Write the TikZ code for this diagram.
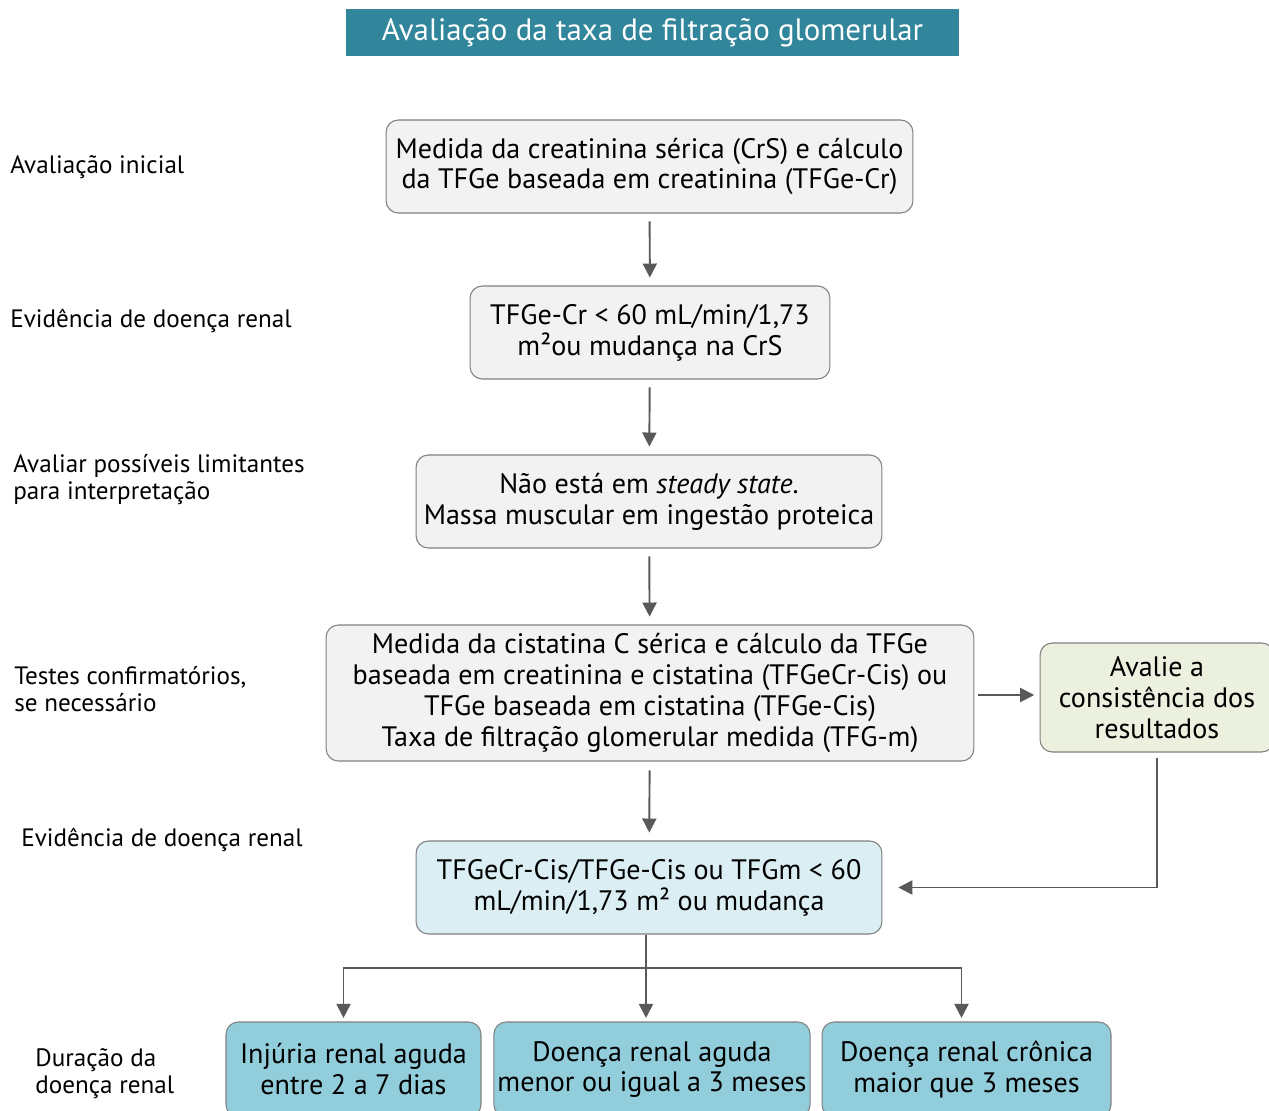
\documentclass[tikz,border=0pt]{standalone}
\usepackage{fontspec}
\setmainfont{PT Sans}
\usetikzlibrary{arrows.meta}

\definecolor{titleteal}{RGB}{49,134,155}
\definecolor{boxgray}{RGB}{242,242,242}
\definecolor{boxgreen}{RGB}{235,241,222}
\definecolor{boxblue}{RGB}{218,238,243}
\definecolor{boxteal}{RGB}{146,205,220}
\definecolor{linegray}{RGB}{89,89,89}

\tikzset{
  stepbox/.style={draw=gray, line width=0.6pt, rounded corners=7pt, align=center,
    inner sep=2pt, font=\fontsize{16}{17.6}\selectfont},
  sidelabel/.style={anchor=west, align=left, inner sep=0pt,
    font=\fontsize{14.3}{15.3}\selectfont},
  flow/.style={draw=linegray, line width=1.1pt,
    -{Triangle[width=8pt,length=8pt]}},
}

\begin{document}
\begin{tikzpicture}[x=0.02cm, y=-0.02cm]
    \clip (0,0) rectangle (1269,1111);

    %title
    \node[fill=titleteal, text=white, minimum width=12.26cm, minimum height=0.94cm,
      font=\fontsize{17.6}{18}\selectfont] (title) at (652.5,32.5)
      {Avaliação da taxa de filtração glomerular};

    %boxes
    \node[stepbox, fill=boxgray, minimum width=10.54cm, minimum height=1.86cm] (crs) at (649.5,166.5)
      {Medida da creatinina sérica (CrS) e cálculo\\da TFGe baseada em creatinina (TFGe-Cr)};
    \node[stepbox, fill=boxgray, minimum width=7.2cm, minimum height=1.86cm] (evid) at (650,332.5)
      {TFGe-Cr < 60 mL/min/1,73\\m²ou mudança na CrS};
    \node[stepbox, fill=boxgray, minimum width=9.32cm, minimum height=1.86cm] (limit) at (649,501.5)
      {Não está em \textit{steady state}.\\Massa muscular em ingestão proteica};
    \node[stepbox, fill=boxgray, minimum width=12.96cm, minimum height=2.72cm] (cis) at (650,693)
      {Medida da cistatina C sérica e cálculo da TFGe\\baseada em creatinina e cistatina (TFGeCr-Cis) ou\\TFGe baseada em cistatina (TFGe-Cis)\\Taxa de filtração glomerular medida (TFG-m)};
    \node[stepbox, fill=boxgreen, minimum width=4.68cm, minimum height=2.18cm] (cons) at (1157,697.5)
      {Avalie a\\consistência dos\\resultados};
    \node[stepbox, fill=boxblue, minimum width=9.32cm, minimum height=1.86cm] (conf) at (649,887.5)
      {TFGeCr-Cis/TFGe-Cis ou TFGm < 60\\mL/min/1,73 m² ou mudança};
    \node[stepbox, fill=boxteal, minimum width=5.1cm, minimum height=1.9cm] (ira) at (353.5,1069.5)
      {Injúria renal aguda\\entre 2 a 7 dias};
    \node[stepbox, fill=boxteal, minimum width=6.28cm, minimum height=1.9cm] (dra) at (652,1069.5)
      {Doença renal aguda\\menor ou igual a 3 meses};
    \node[stepbox, fill=boxteal, minimum width=5.78cm, minimum height=1.9cm] (drc) at (966.5,1069.5)
      {Doença renal crônica\\maior que 3 meses};

    %side labels
    \node[sidelabel] (l1) at (10,167) {Avaliação inicial};
    \node[sidelabel] (l2) at (10,321) {Evidência de doença renal};
    \node[sidelabel] (l3) at (13,479.5) {Avaliar possíveis limitantes\\para interpretação};
    \node[sidelabel] (l4) at (14,689.5) {Testes confirmatórios,\\se necessário};
    \node[sidelabel] (l5) at (21,840) {Evidência de doença renal};
    \node[sidelabel] (l6) at (35,1074) {Duração da\\doença renal};

    %arrows
    \draw[flow, shorten <=4.5pt, shorten >=4.5pt] (crs) -- (evid);
    \draw[flow, shorten <=4.5pt, shorten >=4.5pt] (evid) -- (limit);
    \draw[flow, shorten <=4.5pt, shorten >=4.5pt] (limit) -- (cis);
    \draw[flow, shorten <=5pt, shorten >=4.5pt] (cis) -- (conf);
    \draw[flow, shorten <=2pt, shorten >=3pt] (cis.east |- 0,695) -- (cons.west |- 0,695);
    \draw[flow, shorten <=3pt, shorten >=9pt] (cons.south) |- (conf.east);

    %split to duration
    \coordinate (split) at (646,968);
    \draw[flow, shorten >=2pt] (conf.south -| split) -- (dra.north -| split);
    \draw[flow, shorten >=2pt] (split) -| ([xshift=-0.2cm]ira.north);
    \draw[flow, shorten >=2pt] (split) -| ([xshift=-0.1cm]drc.north);
\end{tikzpicture}
\end{document}
